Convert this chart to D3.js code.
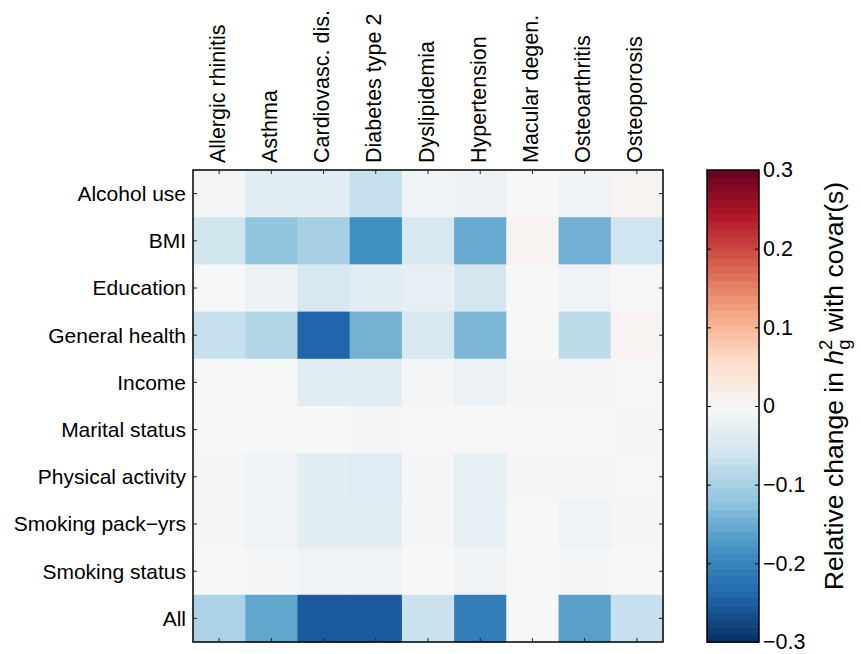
<!DOCTYPE html>
<html><head><meta charset="utf-8">
<script src="https://cdn.jsdelivr.net/npm/d3@7"></script>
<style>body{margin:0;background:#fff}svg{display:block;font-family:"Liberation Sans",Arial,sans-serif}</style>
</head><body><svg id="c" width="861" height="654"></svg>
<script>
const diseases = ["Allergic rhinitis","Asthma","Cardiovasc. dis.","Diabetes type 2","Dyslipidemia","Hypertension","Macular degen.","Osteoarthritis","Osteoporosis"];
const covariates = ["Alcohol use","BMI","Education","General health","Income","Marital status","Physical activity","Smoking pack\u2212yrs","Smoking status","All"];
const alcoholUse      = [-0.006,-0.033,-0.033,-0.070,-0.013,-0.019, 0.000,-0.013, 0.008];
const bmi             = [-0.058,-0.120,-0.100,-0.186,-0.050,-0.151, 0.008,-0.145,-0.060];
const education       = [ 0.000,-0.017,-0.050,-0.033,-0.027,-0.055, 0.000,-0.013,-0.002];
const generalHealth   = [-0.070,-0.089,-0.240,-0.143,-0.050,-0.137, 0.000,-0.078, 0.008];
const income          = [ 0.000, 0.000,-0.033,-0.033,-0.006,-0.019,-0.006,-0.006,-0.002];
const maritalStatus   = [ 0.000, 0.000, 0.000,-0.006, 0.000, 0.000, 0.000, 0.000,-0.006];
const physicalActivity= [-0.006,-0.013,-0.033,-0.036,-0.006,-0.027,-0.006,-0.006,-0.002];
const smokingPackYrs  = [-0.006,-0.013,-0.033,-0.033,-0.006,-0.027, 0.000,-0.015,-0.006];
const smokingStatus   = [ 0.000,-0.006,-0.013,-0.013, 0.000,-0.013, 0.000,-0.006, 0.000];
const allCovars       = [-0.096,-0.157,-0.253,-0.253,-0.067,-0.208, 0.000,-0.164,-0.070];
const rows = [alcoholUse,bmi,education,generalHealth,income,maritalStatus,physicalActivity,smokingPackYrs,smokingStatus,allCovars];
const cbTicks = [-0.3,-0.2,-0.1,0,0.1,0.2,0.3];
const rdbuColors = ["#053061","#2166ac","#4393c3","#92c5de","#d1e5f0","#f7f7f7","#fddbc7","#f4a582","#d6604d","#b2182b","#67001f"];

const svg = d3.select("#c");
const L=193, R=663, T=170, B=642;
const x = d3.scaleBand().domain(diseases).range([L,R]);
const y = d3.scaleBand().domain(covariates).range([T,B]);
const color = d3.scaleLinear().domain(d3.range(11).map(i=>-0.3+0.06*i)).range(rdbuColors).interpolate(d3.interpolateRgb).clamp(true);

const cells = [];
rows.forEach((r,i)=>r.forEach((v,j)=>cells.push({r:covariates[i],c:diseases[j],v})));
svg.append("g").selectAll("rect").data(cells).join("rect")
  .attr("x",d=>x(d.c)).attr("y",d=>y(d.r))
  .attr("width",x.bandwidth()+0.5).attr("height",y.bandwidth()+0.5)
  .attr("fill",d=>color(d.v));

// box
svg.append("rect").attr("x",L).attr("y",T).attr("width",R-L).attr("height",B-T)
  .attr("fill","none").attr("stroke","#000").attr("stroke-width",1.5);
const tk=4;
const tg=svg.append("g").attr("stroke","#222").attr("stroke-width",1);
diseases.forEach(d=>{const cx=x(d)+x.bandwidth()/2;
  tg.append("line").attr("x1",cx).attr("x2",cx).attr("y1",T).attr("y2",T+tk);
  tg.append("line").attr("x1",cx).attr("x2",cx).attr("y1",B).attr("y2",B-tk);});
covariates.forEach(d=>{const cy=y(d)+y.bandwidth()/2;
  tg.append("line").attr("x1",L).attr("x2",L+tk).attr("y1",cy).attr("y2",cy);
  tg.append("line").attr("x1",R).attr("x2",R-tk).attr("y1",cy).attr("y2",cy);});

// row labels
svg.append("g").selectAll("text").data(covariates).join("text")
  .attr("x",186).attr("y",d=>y(d)+y.bandwidth()/2).attr("dy","0.35em")
  .attr("text-anchor","end").attr("font-size",21).text(d=>d);
// column labels
svg.append("g").selectAll("text").data(diseases).join("text")
  .attr("transform",d=>`translate(${x(d)+x.bandwidth()/2-2},163) rotate(-90)`)
  .attr("dy","0.35em").attr("font-size",21.5).text(d=>d);

// colorbar
const CL=707, CR=759;
const cy = d3.scaleLinear().domain([-0.3,0.3]).range([B,T]);
const n=64, steps=d3.range(n).map(i=>-0.3+0.6*(i+0.5)/n);
svg.append("g").selectAll("rect").data(steps).join("rect")
  .attr("x",CL).attr("width",CR-CL)
  .attr("y",d=>cy(d+0.3/n)).attr("height",Math.abs(cy(0)-cy(0.6/n))+0.6)
  .attr("fill",d=>color(d));
svg.append("rect").attr("x",CL).attr("y",T).attr("width",CR-CL).attr("height",B-T)
  .attr("fill","none").attr("stroke","#000").attr("stroke-width",1.5);
const ax = svg.append("g").attr("transform",`translate(${CR},0)`)
  .call(d3.axisLeft(cy).tickValues(cbTicks).tickSize(4).tickFormat(d=>d===0?"0":d3.format(".1f")(d).replace("-","\u2212")));
ax.select(".domain").remove();
ax.selectAll("line").attr("stroke","#000");
ax.selectAll("text").attr("x",4).attr("text-anchor","start").attr("font-size",21.5).attr("fill","#000").attr("font-family","Liberation Sans, Arial, sans-serif");
const ax2 = svg.append("g").attr("transform",`translate(${CL},0)`)
  .call(d3.axisRight(cy).tickValues(cbTicks).tickSize(4).tickFormat(""));
ax2.select(".domain").remove();
ax2.selectAll("line").attr("stroke","#000");

// colorbar label
const lab = svg.append("text").attr("transform","translate(843,386) rotate(-90)")
  .attr("text-anchor","middle").attr("font-size",26.5);
lab.append("tspan").text("Relative change in ");
lab.append("tspan").attr("font-style","italic").text("h");
lab.append("tspan").attr("dy",-11).attr("font-size",18.5).text("2");
lab.append("tspan").attr("dx",-10).attr("dy",18).attr("font-size",18.5).text("g");
lab.append("tspan").attr("dy",-7).text(" with covar(s)");
</script></body></html>
